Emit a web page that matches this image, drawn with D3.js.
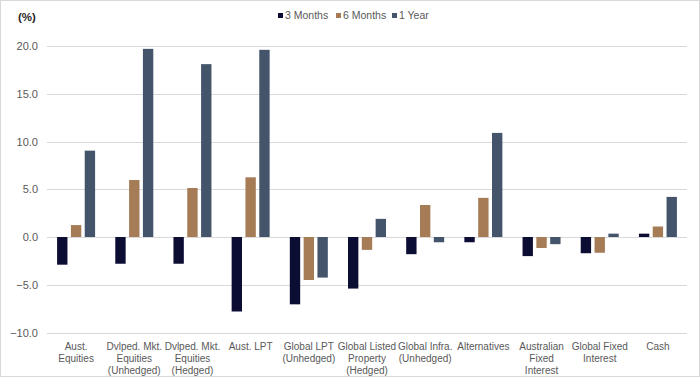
<!DOCTYPE html>
<html>
<head>
<meta charset="utf-8">
<script src="https://cdn.jsdelivr.net/npm/d3@7"></script>
<style>
  body { margin: 0; background: #fff; }
  text { font-family: "Liberation Sans", Arial, sans-serif; fill: #595959; }
</style>
</head>
<body>
<div id="chart"></div>
<script>
// --------------------------------------
//  Data
// --------------------------------------

const categories = [
  ["Aust.", "Equities"],
  ["Dvlped. Mkt.", "Equities", "(Unhedged)"],
  ["Dvlped. Mkt.", "Equities", "(Hedged)"],
  ["Aust. LPT"],
  ["Global LPT", "(Unhedged)"],
  ["Global Listed", "Property", "(Hedged)"],
  ["Global Infra.", "(Unhedged)"],
  ["Alternatives"],
  ["Australian", "Fixed", "Interest"],
  ["Global Fixed", "Interest"],
  ["Cash"]
];

const seriesNames = ["3 Months", "6 Months", "1 Year"];
const threeMonths = [-2.9, -2.8, -2.8, -7.8, -7.05, -5.4, -1.8, -0.55, -2.0, -1.7, 0.35];
const sixMonths   = [1.25, 5.97, 5.13, 6.25, -4.5, -1.35, 3.35, 4.1, -1.15, -1.65, 1.1];
const oneYear     = [9.04, 19.7, 18.1, 19.6, -4.25, 1.9, -0.55, 10.9, -0.75, 0.35, 4.2];
const yTicks = [-10, -5, 0, 5, 10, 15, 20];

const colors = ["#0c0d33", "#a67c57", "#44546a"];

// --------------------------------------
//  Canvas
// --------------------------------------

const width = 700, height = 377;
const margin = {top: 46, right: 13, bottom: 44.5, left: 47};
const innerwidth = width - margin.left - margin.right;
const innerheight = height - margin.top - margin.bottom;

const svg = d3.select("#chart")
  .append("svg")
    .attr("width", width)
    .attr("height", height)
    .attr("viewBox", [0, 0, width, height]);

svg.append("rect")
  .attr("x", 0.5).attr("y", 0.5)
  .attr("width", width - 1).attr("height", height - 1)
  .attr("fill", "#fff")
  .attr("stroke", "#d9d9d9");

const inner = svg.append("g")
  .attr("transform", `translate(${margin.left}, ${margin.top})`);

// --------------------------------------
//  Scales
// --------------------------------------

const x = d3.scaleBand()
  .domain(d3.range(categories.length))
  .range([0, innerwidth]);

const xs = d3.scaleBand()
  .domain(d3.range(seriesNames.length))
  .range([x.bandwidth() / 2 - 19, x.bandwidth() / 2 + 19])
  .paddingInner(0.25);

const y = d3.scaleLinear()
  .domain([-10, 20])
  .range([innerheight, 0]);

// --------------------------------------
//  Grid + axes
// --------------------------------------

inner.append("g")
  .selectAll("line")
  .data(yTicks)
  .join("line")
    .attr("x1", 0).attr("x2", innerwidth)
    .attr("y1", d => Math.round(y(d)) + 0.5)
    .attr("y2", d => Math.round(y(d)) + 0.5)
    .attr("stroke", "#d9d9d9");

inner.append("g")
  .call(d3.axisLeft(y).tickValues(yTicks).tickSize(0).tickPadding(9).tickFormat(d3.format(".1f")))
  .call(g => g.select(".domain").remove())
  .call(g => g.selectAll("text")
    .style("font-family", '"Liberation Sans", Arial, sans-serif')
    .style("font-size", "11px")
    .attr("fill", "#595959"));

svg.append("text")
  .attr("x", 18).attr("y", 21)
  .attr("font-size", 11.5)
  .attr("font-weight", "bold")
  .style("fill", "#262626")
  .text("(%)");

// --------------------------------------
//  Bars
// --------------------------------------

const series = [threeMonths, sixMonths, oneYear];

series.forEach((vals, s) => {
  inner.append("g")
    .selectAll("rect")
    .data(vals)
    .join("rect")
      .attr("x", (d, i) => x(i) + xs(s))
      .attr("width", xs.bandwidth())
      .attr("y", d => y(Math.max(0, d)))
      .attr("height", d => Math.abs(y(d) - y(0)))
      .attr("fill", colors[s]);
});

// --------------------------------------
//  Category labels
// --------------------------------------

const labels = inner.append("g")
  .selectAll("text")
  .data(categories)
  .join("text")
    .attr("text-anchor", "middle")
    .attr("font-size", 10)
    .attr("transform", (d, i) => `translate(${x(i) + x.bandwidth() / 2}, ${innerheight + 17})`);

labels.selectAll("tspan")
  .data(d => d)
  .join("tspan")
    .attr("x", 0)
    .attr("dy", (d, i) => i === 0 ? 0 : 12)
    .text(d => d);

// --------------------------------------
//  Legend
// --------------------------------------

const legendX = [278, 336, 392];
const legend = svg.append("g")
  .selectAll("g")
  .data(seriesNames)
  .join("g")
    .attr("transform", (d, i) => `translate(${legendX[i]}, 13)`);

legend.append("rect")
  .attr("width", 5).attr("height", 5)
  .attr("fill", (d, i) => colors[i]);

legend.append("text")
  .attr("x", 7).attr("y", 6)
  .attr("font-size", 10.5)
  .text(d => d);
</script>
</body>
</html>
